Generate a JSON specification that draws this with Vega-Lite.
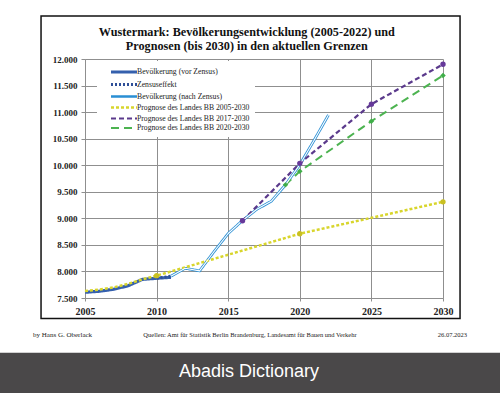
{
  "$schema": "https://vega.github.io/schema/vega-lite/v6.json",
  "width": 358,
  "height": 239,
  "autosize": {"type": "none"},
  "padding": {"left": 85, "top": 59, "right": 57, "bottom": 95},
  "background": "white",
  "datasets": {
    "pop": [
      {"series": "Bevölkerung (vor Zensus)", "year": 2005, "value": 7608},
      {"series": "Bevölkerung (vor Zensus)", "year": 2006, "value": 7627},
      {"series": "Bevölkerung (vor Zensus)", "year": 2007, "value": 7665},
      {"series": "Bevölkerung (vor Zensus)", "year": 2008, "value": 7730},
      {"series": "Bevölkerung (vor Zensus)", "year": 2009, "value": 7850},
      {"series": "Bevölkerung (vor Zensus)", "year": 2010, "value": 7872},
      {"series": "Bevölkerung (vor Zensus)", "year": 2011, "value": 7890},
      {"series": "Zensuseffekt", "year": 2010, "value": 7872},
      {"series": "Zensuseffekt", "year": 2011, "value": 7910},
      {"series": "Bevölkerung (nach Zensus)", "year": 2011, "value": 7910},
      {"series": "Bevölkerung (nach Zensus)", "year": 2012, "value": 8060},
      {"series": "Bevölkerung (nach Zensus)", "year": 2013, "value": 8010},
      {"series": "Bevölkerung (nach Zensus)", "year": 2014, "value": 8370},
      {"series": "Bevölkerung (nach Zensus)", "year": 2015, "value": 8715},
      {"series": "Bevölkerung (nach Zensus)", "year": 2016, "value": 8960},
      {"series": "Bevölkerung (nach Zensus)", "year": 2017, "value": 9170},
      {"series": "Bevölkerung (nach Zensus)", "year": 2018, "value": 9320},
      {"series": "Bevölkerung (nach Zensus)", "year": 2019, "value": 9630},
      {"series": "Bevölkerung (nach Zensus)", "year": 2020, "value": 10010},
      {"series": "Bevölkerung (nach Zensus)", "year": 2021, "value": 10470},
      {"series": "Bevölkerung (nach Zensus)", "year": 2022, "value": 10945},
      {"series": "Prognose des Landes BB 2005-2030", "year": 2005, "value": 7630},
      {"series": "Prognose des Landes BB 2005-2030", "year": 2006, "value": 7660},
      {"series": "Prognose des Landes BB 2005-2030", "year": 2007, "value": 7700},
      {"series": "Prognose des Landes BB 2005-2030", "year": 2008, "value": 7765},
      {"series": "Prognose des Landes BB 2005-2030", "year": 2009, "value": 7850},
      {"series": "Prognose des Landes BB 2005-2030", "year": 2010, "value": 7920},
      {"series": "Prognose des Landes BB 2005-2030", "year": 2020, "value": 8710},
      {"series": "Prognose des Landes BB 2005-2030", "year": 2030, "value": 9310},
      {"series": "Prognose des Landes BB 2017-2030", "year": 2016, "value": 8955},
      {"series": "Prognose des Landes BB 2017-2030", "year": 2020, "value": 10035},
      {"series": "Prognose des Landes BB 2017-2030", "year": 2025, "value": 11150},
      {"series": "Prognose des Landes BB 2017-2030", "year": 2030, "value": 11900},
      {"series": "Prognose des Landes BB 2020-2030", "year": 2019, "value": 9630},
      {"series": "Prognose des Landes BB 2020-2030", "year": 2020, "value": 9885},
      {"series": "Prognose des Landes BB 2020-2030", "year": 2025, "value": 10830},
      {"series": "Prognose des Landes BB 2020-2030", "year": 2030, "value": 11690}
    ]
  },
  "data": {"name": "pop"},
  "layer": [
    {
      "mark": {"type": "line", "strokeCap": "butt", "strokeJoin": "round"},
      "encoding": {
        "x": {
          "field": "year", "type": "quantitative",
          "scale": {"domain": [2005, 2030], "nice": false, "zero": false},
          "axis": {"values": [2005, 2010, 2015, 2020, 2025, 2030], "tickCount": 20, "format": "d", "labelFontSize": 10, "tickSize": 3, "labelPadding": 5, "labelFlush": false, "labelOverlap": false, "title": null}
        },
        "y": {
          "field": "value", "type": "quantitative",
          "scale": {"domain": [7500, 12000], "nice": false, "zero": false},
          "axis": {"values": [7500, 8000, 8500, 9000, 9500, 10000, 10500, 11000, 11500, 12000], "tickCount": 20, "labelExpr": "replace(format(datum.value, ','), ',', '.')", "labelFontSize": 9, "tickSize": 4, "labelPadding": 4, "labelOverlap": false, "title": null}
        },
        "color": {
          "field": "series", "type": "nominal",
          "scale": {
            "domain": ["Bevölkerung (vor Zensus)", "Zensuseffekt", "Bevölkerung (nach Zensus)", "Prognose des Landes BB 2005-2030", "Prognose des Landes BB 2017-2030", "Prognose des Landes BB 2020-2030"],
            "range": ["#3560ad", "#2f4f98", "#2a8fd4", "#d8d52c", "#5b3a8c", "#4cb350"]
          },
          "legend": {
            "orient": "none", "legendX": 12, "legendY": 2, "title": null,
            "fillColor": "white", "padding": 5,
            "symbolType": "M0.75,0H7.25", "symbolSize": 64,
            "labelOffset": 23, "rowPadding": -1.5,
            "labelFont": "Liberation Serif", "labelFontSize": 7.7, "labelColor": "#222", "labelLimit": 300
          }
        },
        "strokeDash": {
          "field": "series", "type": "nominal",
          "scale": {
            "domain": ["Bevölkerung (vor Zensus)", "Zensuseffekt", "Bevölkerung (nach Zensus)", "Prognose des Landes BB 2005-2030", "Prognose des Landes BB 2017-2030", "Prognose des Landes BB 2020-2030"],
            "range": [[1, 0], [2, 2], [1, 0], [3, 2], [5, 3], [8, 5]]
          }
        },
        "strokeWidth": {
          "field": "series", "type": "nominal",
          "scale": {
            "domain": ["Bevölkerung (vor Zensus)", "Zensuseffekt", "Bevölkerung (nach Zensus)", "Prognose des Landes BB 2005-2030", "Prognose des Landes BB 2017-2030", "Prognose des Landes BB 2020-2030"],
            "range": [3.2, 2, 3.4, 1.3, 2, 4]
          }
        }
      }
    },
    {
      "transform": [{"filter": "datum.series == 'Bevölkerung (nach Zensus)'"}],
      "mark": {"type": "line", "stroke": "white", "strokeWidth": 1.1, "strokeJoin": "round"},
      "encoding": {
        "x": {"field": "year", "type": "quantitative"},
        "y": {"field": "value", "type": "quantitative"}
      }
    },
    {
      "transform": [{"filter": "indexof(datum.series, 'Prognose') == 0 && datum.year >= 2010"}],
      "mark": {"type": "point", "filled": true, "opacity": 1, "strokeWidth": 0},
      "encoding": {
        "x": {"field": "year", "type": "quantitative"},
        "y": {"field": "value", "type": "quantitative"},
        "fill": {
          "field": "series", "type": "nominal", "legend": null,
          "scale": {
            "domain": ["Prognose des Landes BB 2005-2030", "Prognose des Landes BB 2017-2030", "Prognose des Landes BB 2020-2030"],
            "range": ["#c9c022", "#66399a", "#3fae48"]
          }
        },
        "shape": {
          "field": "series", "type": "nominal", "legend": null,
          "scale": {
            "domain": ["Prognose des Landes BB 2005-2030", "Prognose des Landes BB 2017-2030", "Prognose des Landes BB 2020-2030"],
            "range": ["circle", "circle", "diamond"]
          }
        },
        "size": {
          "field": "series", "type": "nominal", "legend": null,
          "scale": {
            "domain": ["Prognose des Landes BB 2005-2030", "Prognose des Landes BB 2017-2030", "Prognose des Landes BB 2020-2030"],
            "range": [28, 30, 70]
          }
        }
      }
    },
    {
      "data": {"values": [{}]},
      "mark": {"type": "rect", "fill": null, "stroke": "#111", "strokeWidth": 1.5},
      "encoding": {
        "x": {"datum": 2001.93, "type": "quantitative"},
        "x2": {"datum": 2031.19},
        "y": {"datum": 12810, "type": "quantitative"},
        "y2": {"datum": 7114}
      }
    },
    {
      "data": {"values": [{}]},
      "mark": {"type": "text", "text": ["Wustermark:  Bevölkerungsentwicklung (2005-2022) und", "Prognosen (bis 2030) in den aktuellen Grenzen"], "align": "center", "baseline": "alphabetic", "lineHeight": 13.5, "font": "Liberation Serif", "fontSize": 12.2, "fontWeight": "bold", "color": "#111"},
      "encoding": {
        "x": {"datum": 2016.3, "type": "quantitative"},
        "y": {"datum": 12432, "type": "quantitative"}
      }
    },
    {
      "data": {"values": [{}]},
      "mark": {"type": "text", "text": "by Hans G. Oberlack", "align": "left", "baseline": "middle", "font": "Liberation Serif", "fontSize": 7, "color": "#222"},
      "encoding": {
        "x": {"datum": 2001.37, "type": "quantitative"},
        "y": {"datum": 6803, "type": "quantitative"}
      }
    },
    {
      "data": {"values": [{}]},
      "mark": {"type": "text", "text": "Quellen: Amt für Statistik Berlin Brandenburg, Landesamt für Bauen und Verkehr", "align": "center", "baseline": "middle", "font": "Liberation Serif", "fontSize": 6.5, "color": "#222"},
      "encoding": {
        "x": {"datum": 2016.52, "type": "quantitative"},
        "y": {"datum": 6803, "type": "quantitative"}
      }
    },
    {
      "data": {"values": [{}]},
      "mark": {"type": "text", "text": "26.07.2023", "align": "right", "baseline": "middle", "font": "Liberation Serif", "fontSize": 6.5, "color": "#222"},
      "encoding": {
        "x": {"datum": 2031.68, "type": "quantitative"},
        "y": {"datum": 6803, "type": "quantitative"}
      }
    },
    {
      "data": {"values": [{}]},
      "mark": {"type": "rect", "fill": "#4a4849", "stroke": null},
      "encoding": {
        "x": {"datum": 1990, "type": "quantitative"},
        "x2": {"datum": 2040},
        "y": {"datum": 6470, "type": "quantitative"},
        "y2": {"datum": 4000}
      }
    },
    {
      "data": {"values": [{}]},
      "mark": {"type": "text", "text": "Abadis Dictionary", "align": "center", "baseline": "middle", "font": "Liberation Sans", "fontSize": 18, "color": "#ffffff"},
      "encoding": {
        "x": {"datum": 2016.45, "type": "quantitative"},
        "y": {"datum": 6101, "type": "quantitative"}
      }
    }
  ],
  "config": {
    "view": {"stroke": null},
    "axis": {
      "labelFont": "Liberation Serif",
      "labelFontWeight": "bold",
      "labelColor": "#222",
      "grid": true,
      "gridColor": "#8f8f8f",
      "gridWidth": 1,
      "domainColor": "#8f8f8f",
      "tickColor": "#8f8f8f"
    }
  }
}
